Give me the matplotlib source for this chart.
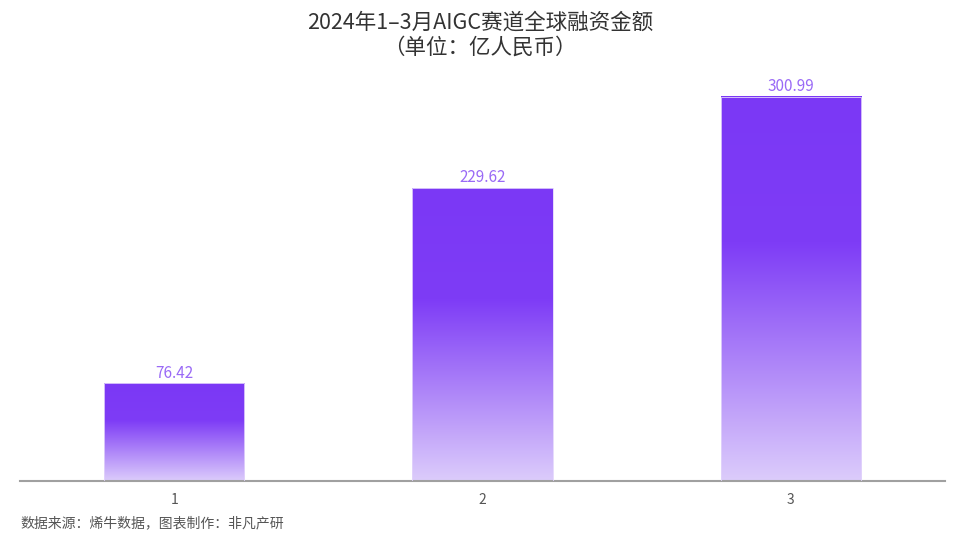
import numpy as np
import matplotlib.pyplot as plt
from matplotlib.colors import LinearSegmentedColormap

plt.rcParams['font.family'] = ['Noto Sans CJK SC', 'DejaVu Sans']

# data
categories = ['1', '2', '3']
values = [76.42, 229.62, 300.99]
value_labels = ['76.42', '229.62', '300.99']
title = '2024年1–3月AIGC赛道全球融资金额\n（单位：亿人民币）'
source = '数据来源：烯牛数据，图表制作：非凡产研'

fig = plt.figure(figsize=(9.6, 5.57), dpi=100)
ax = fig.add_axes([20 / 960, 76 / 557, 925 / 960, 401 / 557])

x = np.arange(len(categories))
bars = ax.bar(x, values, width=0.455, color='none', edgecolor='#E2D4FC', linewidth=0.6, zorder=3)

# gradient fill: solid at top, fading towards the baseline
cmap = LinearSegmentedColormap.from_list('grad', [(0, '#DCCCFB'), (0.62, '#7E3CF6'), (1, '#7B38F5')])
grad = np.linspace(0, 1, 256).reshape(-1, 1)
for b in bars:
    x0, w, h = b.get_x(), b.get_width(), b.get_height()
    ax.imshow(grad, cmap=cmap, origin='lower', aspect='auto',
              extent=[x0, x0 + w, 0, h], zorder=2)

for xi, v, lab in zip(x, values, value_labels):
    ax.text(xi, v + 1.5, lab, ha='center', va='bottom', fontsize=11,
            fontweight='medium', color='#9A6AF6')

ax.set_xlim(-0.5, 2.5)
ax.set_ylim(0, 314.3)
ax.set_xticks(x)
ax.set_xticklabels(categories, fontsize=10, color='#555555')
ax.tick_params(axis='x', length=0, pad=9)
ax.set_yticks([])
for s in ['top', 'right', 'left']:
    ax.spines[s].set_visible(False)
ax.spines['bottom'].set_color('#A0A0A0')
ax.spines['bottom'].set_linewidth(1.5)

fig.text(0.5, 1 - 35 / 557, title, ha='center', va='center', fontsize=15.5,
         color='#333333', linespacing=1.15)
fig.text(20 / 960, 1 - 523 / 557, source, ha='left', va='center', fontsize=10, color='#555555')

fig.savefig('out.png', dpi=100, facecolor='white')
